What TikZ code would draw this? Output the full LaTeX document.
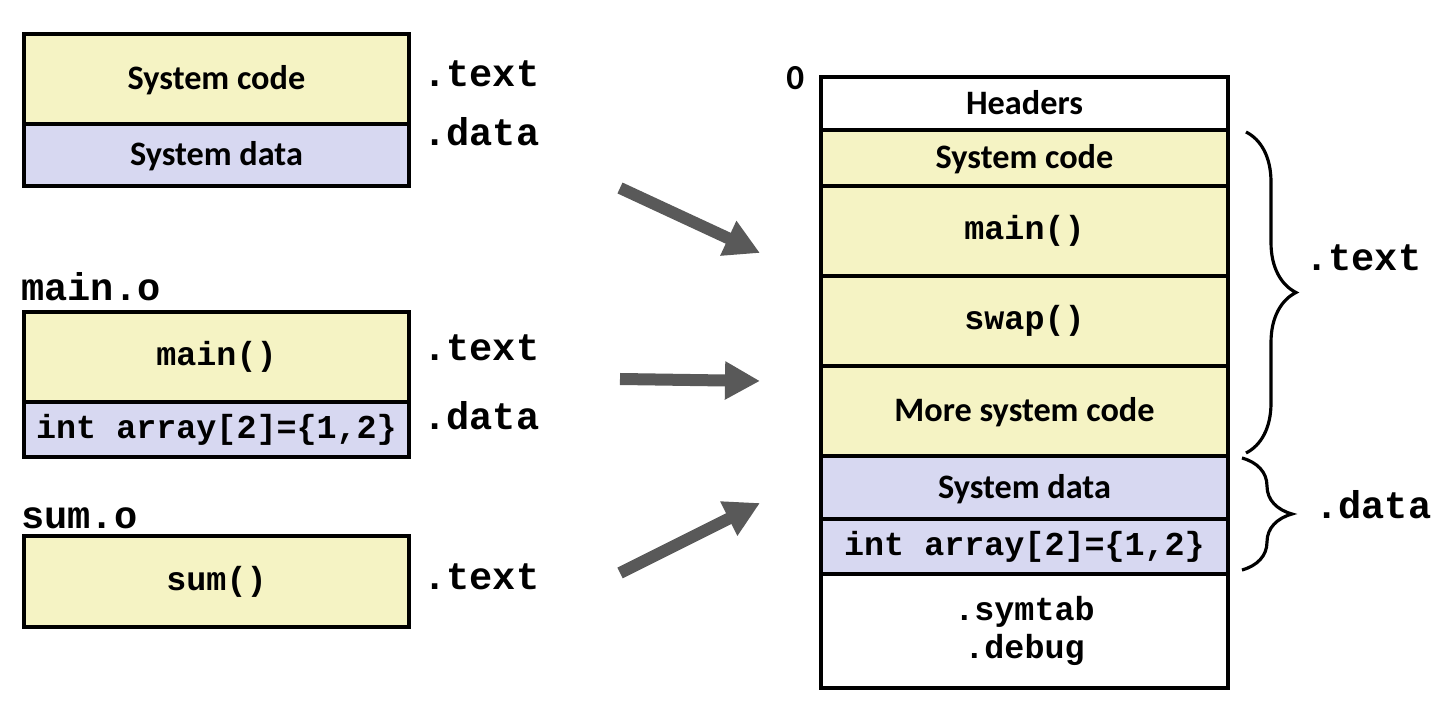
\documentclass[tikz,border=0pt]{standalone}
\usepackage{fontspec}
\setmainfont{Carlito}
\setmonofont{Liberation Mono}
\usetikzlibrary{positioning,calc,arrows.meta,decorations.pathreplacing}

\definecolor{codeyellow}{RGB}{245,243,196}
\definecolor{datablue}{RGB}{215,216,241}
\definecolor{arrowgray}{RGB}{89,89,89}

\tikzset{
  sect/.style={draw, line width=2pt, outer sep=0pt, inner sep=0pt, minimum width=7.7cm, font=\fontsize{19.5}{23}\selectfont\bfseries},
  objsect/.style={sect, minimum width=8.14cm},
  sanstxt/.style={text height=12.5pt, text depth=0pt},
  codefill/.style={fill=codeyellow},
  datafill/.style={fill=datablue},
  ttbold/.style={font=\fontsize{19}{21.5}\selectfont\ttfamily\bfseries},
  seclabel/.style={font=\fontsize{22}{24}\selectfont\ttfamily\bfseries, anchor=base west, inner sep=0pt},
  bigarrow/.style={arrowgray, line width=0.24cm, -{Triangle[width=0.72cm,length=0.7cm]}},
  secbrace/.style={decorate, decoration={brace, amplitude=1cm}, line width=1.8pt}
}

\begin{document}
\begin{tikzpicture}
\useasboundingbox (0,0) rectangle (28.92,14.2);

% linked pieces
\node[sect, codefill, sanstxt, minimum height=1.8cm] (syscode) at (4.33,12.62) {System code};
\node[sect, datafill, sanstxt, minimum height=1.24cm, below=0pt of syscode] (sysdata) {System data};
\node[seclabel] (ltext1) at (8.46,12.47) {.text};
\node[seclabel] (ldata1) at (8.46,11.28) {.data};

\node[seclabel] (mainname) at (0.42,8.18) {main.o};
\node[sect, codefill, ttbold, minimum height=1.8cm] (omain) at (4.33,7.06) {main()};
\node[sect, datafill, ttbold, minimum height=1.1cm, below=0pt of omain] (oarray) {int array[2]=\{1,2\}};
\node[seclabel] (ltext2) at (8.46,6.98) {.text};
\node[seclabel] (ldata2) at (8.46,5.6) {.data};

\node[seclabel] (sumname) at (0.42,3.62) {sum.o};
\node[sect, codefill, ttbold, minimum height=1.82cm] (osum) at (4.33,2.57) {sum()};
\node[seclabel] (ltext3) at (8.46,2.4) {.text};

% executable
\node[anchor=base west, inner sep=0pt, font=\fontsize{20}{22}\selectfont\bfseries] (zero) at (15.72,12.4) {0};
\node[objsect, sanstxt, fill=white, minimum height=1.06cm] (hdr) at (20.49,12.13) {Headers};
\node[objsect, codefill, sanstxt, minimum height=1.12cm, below=0pt of hdr] (rsys) {System code};
\node[objsect, codefill, ttbold, minimum height=1.8cm, below=0pt of rsys] (rmain) {main()};
\node[objsect, codefill, ttbold, minimum height=1.8cm, below=0pt of rmain] (rswap) {swap()};
\node[objsect, codefill, sanstxt, minimum height=1.8cm, below=0pt of rswap] (rmore) {More system code};
\node[objsect, datafill, sanstxt, minimum height=1.26cm, below=0pt of rmore] (rsysdata) {System data};
\node[objsect, datafill, ttbold, minimum height=1.1cm, below=0pt of rsysdata] (rarray) {int array[2]=\{1,2\}};
\node[objsect, ttbold, align=center, minimum height=2.28cm, below=0pt of rarray] (rdebug) {.symtab\\.debug};

\draw[secbrace] ($(rsys.north east)+(0.36,-0.04)$) -- ($(rmore.south east)+(0.36,0.06)$);
\draw[secbrace] ($(rsysdata.north east)+(0.28,-0.04)$) -- ($(rarray.south east)+(0.28,0.08)$);
\node[seclabel] (rtext) at (26.1,8.78) {.text};
\node[seclabel] (rdata) at (26.3,3.82) {.data};

% arrows
\coordinate (a1s) at (12.4,10.44); \coordinate (a1e) at (15.2,9.14);
\coordinate (a2s) at (12.4,6.62);  \coordinate (a2e) at (15.2,6.58);
\coordinate (a3s) at (12.4,2.74);  \coordinate (a3e) at (15.2,4.14);
\draw[bigarrow] (a1s) -- (a1e);
\draw[bigarrow] (a2s) -- (a2e);
\draw[bigarrow] (a3s) -- (a3e);
\end{tikzpicture}
\end{document}
